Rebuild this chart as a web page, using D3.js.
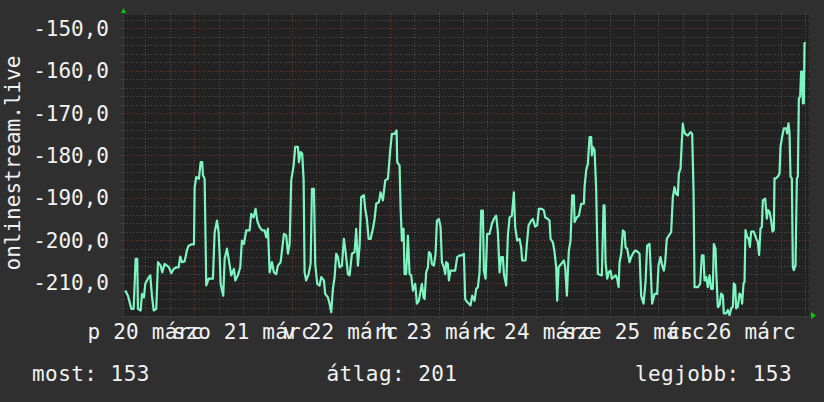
<!DOCTYPE html>
<html><head><meta charset="utf-8">
<script src="https://cdn.jsdelivr.net/npm/d3@7"></script>
<style>
html,body{margin:0;padding:0;background:#2f2f2f;}
svg{display:block;}
text{font-family:"DejaVu Sans Mono",monospace;fill:#f2f2f2;}
</style></head><body>
<svg id="c" width="824" height="402"></svg>
<script>
// hours since 20 March 00:00
const hours = [7.06,7.72,8.53,9.12,9.36,9.61,10.0,10.17,10.84,11.16,11.65,11.97,12.63,13.2,13.61,14.03,14.67,15.09,15.74,16.14,16.72,17.3,17.79,18.35,18.94,19.58,20.16,20.56,20.98,21.64,22.2,22.62,23.26,23.93,24.1,24.49,25.15,25.57,25.96,26.14,26.55,26.95,27.54,28.59,29.01,29.58,29.99,30.23,30.48,31.12,31.47,32.03,32.52,33.09,33.75,34.07,34.73,35.3,35.71,
36.2,36.77,37.6,38.0,38.59,39.07,39.47,40.05,40.7,41.29,41.68,42.1,42.52,43.08,43.57,44.14,44.55,45.21,45.61,46.03,46.59,47.01,47.43,47.82,48.41,48.8,49.47,49.71,50.13,50.52,50.87,51.1,51.5,52.09,52.58,52.91,53.4,53.72,54.21,54.79,55.19,55.85,56.17,56.83,57.25,57.65,58.06,58.48,58.87,59.29,59.71,60.27,60.76,61.18,61.75,62.16,62.73,63.39,63.78,64.2,64.62,
65.01,65.67,65.99,66.41,66.83,67.32,67.88,68.3,68.7,69.36,69.77,70.34,70.91,71.57,72.13,72.55,73.21,73.7,73.85,74.44,74.68,75.01,75.41,75.66,76.06,76.48,76.89,77.29,77.71,78.28,78.69,79.18,79.6,79.92,80.33,80.58,80.97,81.39,81.64,82.05,82.37,82.87,83.28,83.6,84.09,84.51,84.83,85.32,85.64,85.89,86.3,86.55,86.96,87.53,88.09,88.59,89.17,89.74,90.23,90.55,91.04,91.46,91.87,92.27,92.85,93.25,93.67,
94.08,94.48,94.9,95.14,95.56,95.95,96.54,97.11,97.6,98.17,98.58,99.0,99.39,99.81,100.06,100.62,101.04,101.45,102.02,102.51,102.83,103.32,103.91,104.3,104.55,105.38,105.7,106.12,106.76,107.18,107.74,108.24,108.65,109.39,109.88,110.2,110.86,111.27,111.52,112.09,112.5,112.9,113.14,113.49,114.13,114.79,115.11,115.53,115.77,116.02,116.43,116.83,117.25,117.42,117.98,118.48,119.04,119.7,119.87,120.27,120.68,121.1,121.5,121.67,121.91,122.33,122.72,123.14,
123.96,124.12,124.54,124.79,125.03,125.43,125.85,126.26,126.58,127.07,127.49,127.88,128.23,128.47,128.87,129.29,129.7,129.95,130.34,130.92,131.32,131.74,132.3,132.96,133.38,133.77,134.36,134.85,135.24,135.83,136.08,136.47,137.06,137.7,138.04,138.53,138.93,139.35,139.67,140.08,140.57,141.14,141.56,141.97,142.37,142.79,143.03,143.45,143.77,144.01,144.26,144.57,145.24,145.9,146.3,146.64,146.89,147.7,148.27,148.68,149.1,149.34,149.74,150.15,150.57,150.96,151.38,151.62,152.04,152.19,152.61,
153.03,153.42,153.84,154.08,154.65,155.07,155.49,155.88,156.29,156.54,156.86,157.11,157.52,157.93,158.33,158.57,158.92,159.16,159.4,159.81,160.15,160.47,160.79,161.45,162.02,162.43,162.75,163.1,163.42,163.66,164.23,164.64,164.89,165.3,165.7,166.04,166.36,166.53,166.93,167.34,167.76,168.0,168.4,168.82,169.39,169.63,169.97,170.22,170.46,170.79,171.03,171.28,171.69,172.02,172.26,172.51,172.83,173.07,173.32,173.49,173.73,173.9,174.22];
const values = [-211.9,-213.1,-216.2,-216.2,-210.3,-204.4,-204.4,-216.2,-216.6,-212.7,-213.5,-210.3,-209.1,-208.3,-213.1,-216.6,-216.2,-205.2,-206.0,-207.6,-205.6,-206.0,-206.4,-207.8,-206.8,-206.4,-206.4,-203.9,-205.2,-205.0,-202.4,-201.3,-201.0,-201.0,-187.5,-185.1,-185.5,-181.6,-181.6,-184.7,-185.5,-210.7,-209.1,-209.1,-198.1,-195.4,-198.1,-203.2,-210.3,-213.1,-204.4,-202.0,-204.8,-208.3,-206.8,-209.5,-208.3,-206.4,-200.1,
-200.9,-197.7,-197.7,-193.8,-194.6,-192.6,-195.4,-196.9,-197.7,-197.7,-199.3,-197.3,-207.6,-205.2,-207.6,-208.0,-206.0,-205.2,-202.0,-198.5,-198.9,-203.2,-200.9,-185.9,-182.4,-178.0,-178.0,-181.6,-179.2,-179.6,-185.9,-207.6,-209.5,-208.0,-205.6,-187.9,-187.9,-205.6,-210.3,-210.7,-208.7,-209.5,-212.7,-213.5,-215.0,-217.0,-211.5,-208.7,-203.2,-204.0,-206.4,-206.0,-199.7,-202.8,-208.0,-208.3,-203.2,-202.8,-197.3,-206.0,-201.3,
-189.8,-189.4,-192.6,-195.0,-199.7,-199.7,-197.3,-195.0,-191.4,-191.0,-188.7,-190.6,-185.9,-185.5,-178.8,-174.9,-174.9,-174.1,-181.6,-182.4,-192.2,-200.1,-197.3,-208.0,-208.0,-198.9,-208.0,-208.3,-211.9,-210.3,-215.0,-214.3,-211.9,-210.3,-213.5,-213.9,-207.6,-206.4,-202.8,-203.2,-205.6,-206.0,-203.2,-195.4,-195.0,-196.9,-205.2,-206.4,-208.0,-205.2,-205.6,-209.5,-207.2,-207.2,-207.2,-204.0,-203.6,-203.6,-203.2,-213.9,-214.6,-215.0,-215.4,-213.1,-214.3,-211.5,-211.1,
-207.6,-193.0,-193.0,-207.2,-209.1,-198.5,-198.5,-196.1,-195.0,-194.2,-198.1,-207.6,-204.0,-204.0,-208.0,-210.7,-198.9,-194.6,-194.2,-188.7,-196.9,-200.1,-199.7,-201.7,-204.8,-204.8,-200.9,-196.5,-195.4,-195.0,-196.8,-196.5,-192.6,-192.6,-193.0,-194.6,-195.0,-195.4,-199.7,-200.5,-202.8,-206.4,-214.3,-206.4,-205.6,-204.8,-206.4,-213.1,-207.6,-202.4,-200.1,-189.4,-189.4,-195.7,-194.6,-194.2,-191.4,-191.4,-187.5,-183.5,-182.0,-175.7,-175.7,-180.0,-178.0,-178.8,-187.9,-208.0,
-208.3,-208.3,-191.8,-191.8,-205.2,-209.1,-207.5,-207.2,-209.1,-208.7,-208.3,-209.1,-211.1,-205.2,-203.2,-197.7,-198.1,-201.7,-202.0,-205.2,-204.0,-203.2,-202.4,-202.8,-203.2,-213.1,-215.0,-209.9,-201.3,-200.9,-206.0,-215.0,-212.7,-212.7,-206.0,-204.0,-206.0,-207.2,-205.2,-199.7,-198.9,-198.1,-189.8,-187.5,-189.1,-189.4,-184.3,-183.1,-176.5,-172.5,-174.1,-174.9,-175.3,-174.5,-174.9,-188.3,-211.1,-211.1,-210.3,-203.6,-203.6,-209.5,-208.7,-211.1,-208.3,-211.5,-211.5,-200.9,-202.0,-206.8,-215.8,
-215.4,-212.6,-213.0,-217.3,-217.3,-216.5,-217.7,-216.1,-215.7,-210.2,-210.6,-216.1,-215.7,-212.6,-213.0,-215.0,-210.2,-209.8,-197.6,-199.2,-199.6,-201.6,-198.0,-198.0,-199.6,-200.4,-203.5,-197.2,-196.9,-190.6,-190.2,-194.9,-192.9,-193.3,-195.3,-198.0,-197.6,-185.4,-185.4,-185.0,-184.3,-178.0,-175.6,-173.6,-173.6,-174.8,-172.4,-174.8,-185.0,-185.4,-206.3,-207.1,-205.9,-185.4,-185.0,-166.5,-166.1,-160.2,-160.2,-167.7,-167.7,-153.5,-153.5];

const dayLabels = ["p 20 márc","szo 21 márc","v 22 márc","h 23 márc","k 24 márc","sze 25 márc","cs 26 márc"];
const dayLabelHours = [12,36,60,84,108,132,156];
const yTickValues = [-210,-200,-190,-180,-170,-160,-150];
const yTitle = "onlinestream.live";
const legendNames = ["most","átlag","legjobb"];
const legendValues = [153,201,153];

const W=824,H=402, L=123,R=809,T=15,B=316;
const svg = d3.select("#c");
svg.append("rect").attr("width",W).attr("height",H).attr("fill","#2f2f2f");

const x = d3.scaleLinear().domain([6.5,175]).range([L,R]);
const y = d3.scaleLinear().domain([-217.9,-146.85]).range([B,T]);

svg.append("rect").attr("x",L).attr("y",T).attr("width",R-L).attr("height",B-T).attr("fill","#222222");

const minorY = d3.range(-216,-146,2).filter(v=>v%10!==0);
const minorX = d3.range(12,175,6).filter(h=>h%24!==0);
const majorX = d3.range(24,175,24);

const g = svg.append("g").attr("shape-rendering","crispEdges");
g.selectAll(".my").data(minorY).join("line")
  .attr("x1",L-2).attr("x2",R).attr("y1",d=>Math.round(y(d))+0.5).attr("y2",d=>Math.round(y(d))+0.5)
  .attr("stroke","#505050").attr("stroke-dasharray","1,2");
g.selectAll(".mx").data(minorX).join("line")
  .attr("y1",T-2).attr("y2",B).attr("x1",d=>Math.round(x(d))+0.5).attr("x2",d=>Math.round(x(d))+0.5)
  .attr("stroke","#505050").attr("stroke-dasharray","1,2");
g.selectAll(".My").data(yTickValues).join("line")
  .attr("x1",L-2).attr("x2",R).attr("y1",d=>Math.round(y(d))+0.5).attr("y2",d=>Math.round(y(d))+0.5)
  .attr("stroke","#7a3434").attr("stroke-dasharray","1,2");
g.selectAll(".Mx").data(majorX).join("line")
  .attr("y1",T-2).attr("y2",B+2).attr("x1",d=>Math.round(x(d))+0.5).attr("x2",d=>Math.round(x(d))+0.5)
  .attr("stroke","#7a3434").attr("stroke-dasharray","1,2");
g.selectAll(".tx").data(minorX.concat(majorX)).join("line")
  .attr("y1",T-2).attr("y2",T).attr("x1",d=>Math.round(x(d))+0.5).attr("x2",d=>Math.round(x(d))+0.5)
  .attr("stroke","#555");
g.selectAll(".bx").data(minorX.concat(majorX)).join("line")
  .attr("y1",B).attr("y2",B+2).attr("x1",d=>Math.round(x(d))+0.5).attr("x2",d=>Math.round(x(d))+0.5)
  .attr("stroke","#555");
g.append("line").attr("x1",L+0.5).attr("x2",L+0.5).attr("y1",T-3).attr("y2",B+2).attr("stroke","#3a3a3a");
g.append("line").attr("x1",L-2).attr("x2",R+3).attr("y1",B+0.5).attr("y2",B+0.5).attr("stroke","#3a3a3a");

svg.append("path").attr("d",`M${L-2},${T-2}L${L+3},${T-2}L${L+0.5},${T-7}Z`).attr("fill","#00cc00");
svg.append("path").attr("d",`M${R+2},${B-4}L${R+2},${B+3}L${R+7},${B-0.5}Z`).attr("fill","#00cc00");

svg.append("clipPath").attr("id","clip").append("rect").attr("x",L).attr("y",T).attr("width",R-L).attr("height",B-T);
const line = d3.line().x((d,i)=>x(hours[i])).y(d=>y(d));
svg.append("path").datum(values).attr("d",line).attr("clip-path","url(#clip)")
  .attr("fill","none").attr("stroke","#7df5c0").attr("stroke-width",2.2).attr("stroke-linejoin","round");

const loc = d3.formatLocale({decimal:",",thousands:" ",grouping:[3],currency:["",""],minus:"-"});
const fmt = loc.format(".1f");
svg.selectAll(".yl").data(yTickValues).join("text")
  .attr("x",109).attr("y",d=>y(d)+7.5).attr("text-anchor","end").attr("font-size",21).text(d=>fmt(d));

svg.selectAll(".xl").data(dayLabels).join("text")
  .attr("x",(d,i)=>x(dayLabelHours[i])).attr("y",339).attr("text-anchor","middle").attr("font-size",21)
  .attr("letter-spacing",0.2).text(d=>d);

svg.append("text").attr("transform","translate(20,163) rotate(-90)").attr("text-anchor","middle").attr("font-size",21).text(yTitle);

const anchors=["start","middle","end"], lx=[32,392,792];
svg.selectAll(".lg").data(legendNames).join("text")
  .attr("x",(d,i)=>lx[i]).attr("y",381).attr("text-anchor",(d,i)=>anchors[i]).attr("font-size",21)
  .attr("letter-spacing",0.45)
  .text((d,i)=>d+": "+legendValues[i]);
</script>
</body></html>
